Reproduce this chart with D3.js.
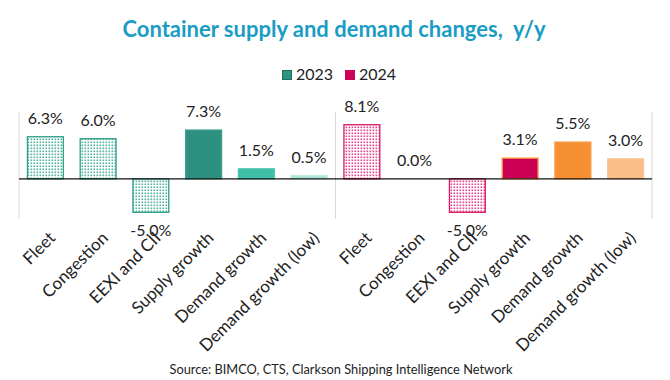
<!DOCTYPE html>
<html>
<head>
<meta charset="utf-8">
<script src="https://cdn.jsdelivr.net/npm/d3@7"></script>
<style>
  html, body { margin: 0; padding: 0; background: #fff; }
  svg { display: block; }
  text { font-family: Lato, "Open Sans", sans-serif; }
</style>
</head>
<body>
<div id="chart"></div>
<script>
// ---- Data ----
const years = ["2023", "2024"];
const categories = ["Fleet", "Congestion", "EEXI and CII", "Supply growth", "Demand growth", "Demand growth (low)"];
const values2023 = [6.3, 6.0, -5.0, 7.3, 1.5, 0.5];
const values2024 = [8.1, 0.0, -5.0, 3.1, 5.5, 3.0];
const yDomain = [-6, 10];
const title = "Container supply and demand changes,  y/y";
const source = "Source: BIMCO, CTS, Clarkson Shipping Intelligence Network";

// ---- Styles ----
const W = 670, H = 380;
const yearColor = { "2023": "#2e9482", "2024": "#cc0055" };
const legendStroke = { "2023": "#1f6e60", "2024": "#cc0055" };
const fills = {
  "2023": [null, null, null, "#2e9080", "#3fbfa7", "#ade6d9"],
  "2024": [null, null, null, "#cc0055", "#f58f31", "#f9bd86"]
};
const strokes = {
  "2023": ["#2e9e88", "#2e9e88", "#2e9e88", "#3ba08c", "#48c6ae", "#bdeadf"],
  "2024": ["#d81b64", "#d81b64", "#d81b64", "#f39a3a", "#f69a45", "#fbc896"]
};
const patternColor = { "2023": "#2fa38c", "2024": "#e0207a" };

const rows = [];
years.forEach(yr => {
  const vals = yr === "2023" ? values2023 : values2024;
  categories.forEach((c, i) => rows.push({ key: yr + "|" + c, year: yr, cat: c, i, value: vals[i] }));
});

const svg = d3.select("#chart").append("svg").attr("width", W).attr("height", H);
const defs = svg.append("defs");
years.forEach(yr => {
  const p = defs.append("pattern").attr("id", "dots" + yr).attr("patternUnits", "userSpaceOnUse")
    .attr("width", 3).attr("height", 3);
  p.append("rect").attr("width", 3).attr("height", 3).attr("fill", "#fff");
  p.append("rect").attr("x", 0.5).attr("y", 0.5).attr("width", 1.6).attr("height", 1.6)
    .attr("fill", patternColor[yr]).attr("opacity", 0.85);
});

const x = d3.scaleBand().domain(rows.map(d => d.key)).range([19, 652])
  .paddingInner(0.32).paddingOuter(0.16);
const y = d3.scaleLinear().domain(yDomain).range([219, 112]);

// Title
svg.append("text").attr("x", 334).attr("y", 37).attr("text-anchor", "middle")
  .style("white-space", "pre").attr("xml:space", "preserve")
  .attr("font-size", 22).attr("font-weight", 700).attr("fill", "#1b9cc4").text(title);

// Legend
const lg = svg.append("g");
const legendX = [282, 345];
years.forEach((yr, k) => {
  lg.append("rect").attr("x", legendX[k] + 0.5).attr("y", 70.5).attr("width", 9).attr("height", 9)
    .attr("fill", yearColor[yr]).attr("stroke", legendStroke[yr]).attr("stroke-width", 1);
  lg.append("text").attr("x", legendX[k] + 14).attr("y", 80).attr("font-size", 16)
    .attr("fill", "#222").text(yr);
});

// vertical separators
const seps = [x.range()[0], (x(rows[5].key) + x.bandwidth() + x(rows[6].key)) / 2, x.range()[1]];
svg.selectAll("line.sep").data(seps).join("line").attr("class", "sep")
  .attr("x1", d => d).attr("x2", d => d).attr("y1", y(yDomain[1])).attr("y2", y(yDomain[0]))
  .attr("stroke", "#d9d9d9").attr("stroke-width", 1);

// bars
svg.selectAll("rect.bar").data(rows.filter(d => d.value !== 0)).join("rect").attr("class", "bar")
  .attr("x", d => x(d.key)).attr("width", x.bandwidth())
  .attr("y", d => y(Math.max(0, d.value)))
  .attr("height", d => Math.abs(y(d.value) - y(0)))
  .attr("fill", d => fills[d.year][d.i] || ("url(#dots" + d.year + ")"))
  .attr("stroke", d => strokes[d.year][d.i]).attr("stroke-width", 1.3);

// zero line
svg.append("line").attr("x1", x.range()[0]).attr("x2", x.range()[1])
  .attr("y1", y(0)).attr("y2", y(0)).attr("stroke", "#111").attr("stroke-width", 1.3);

// value labels
svg.selectAll("text.val").data(rows).join("text").attr("class", "val")
  .attr("x", d => x(d.key) + x.bandwidth() / 2)
  .attr("y", d => d.value >= 0 ? y(d.value) - 13 : y(d.value) + 24)
  .attr("text-anchor", "middle").attr("font-size", 16).attr("fill", "#222")
  .text(d => d3.format(".1f")(d.value).replace("−", "-") + "%");

// category labels (axis)
const axis = svg.append("g").attr("transform", "translate(0," + y(0) + ")")
  .call(d3.axisBottom(x).tickSize(0).tickFormat(k => k.split("|")[1]));
axis.select(".domain").remove();
axis.selectAll("text")
  .attr("font-family", "Lato, 'Open Sans', sans-serif").attr("font-size", 17).attr("fill", "#222")
  .attr("text-anchor", "end").attr("dy", 0).attr("y", 0)
  .attr("transform", "translate(11," + (239 - y(0)) + ") rotate(-45)");

// source
svg.append("text").attr("x", 341).attr("y", 374).attr("text-anchor", "middle")
  .attr("font-size", 12.8).attr("fill", "#222").text(source);
</script>
</body>
</html>
